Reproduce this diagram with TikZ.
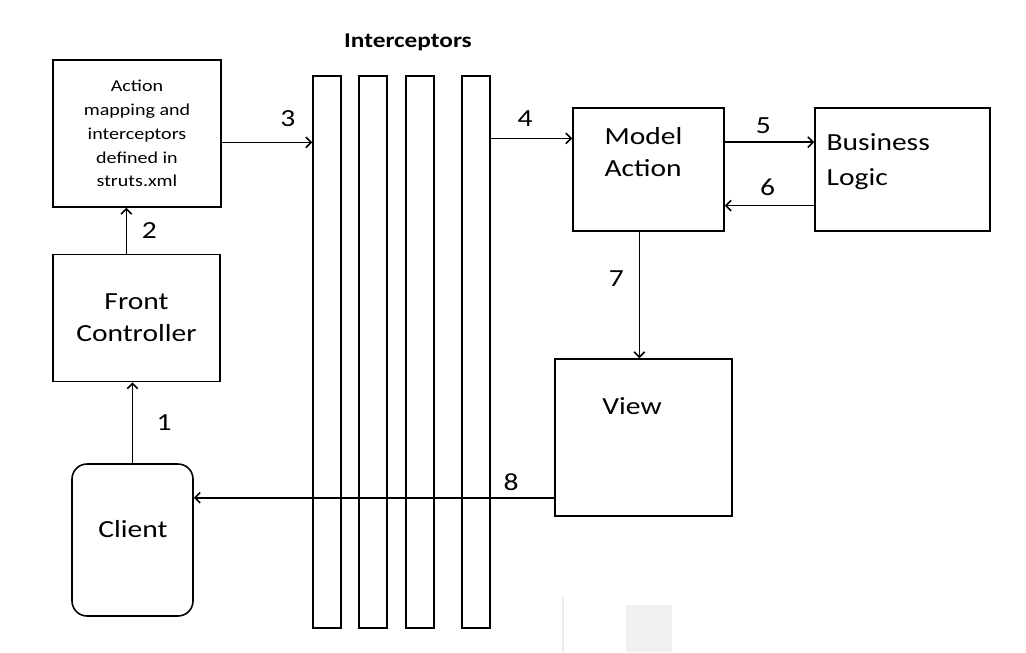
\documentclass[tikz,border=0pt]{standalone}
\usepackage{fontspec}
\setmainfont{Carlito}[FakeStretch=1.2]
\usetikzlibrary{arrows.meta,positioning,calc}

\begin{document}
\begin{tikzpicture}[x=0.02cm,y=-0.02cm,>={Straight Barb[length=3pt,width=6pt]},line width=0.9pt,
    font=\fontsize{14}{18}\selectfont,
    box/.style={draw,rectangle,inner sep=0pt},
    bar/.style={draw,rectangle,minimum width=0.56cm,minimum height=11.04cm},
    small/.style={font=\fontsize{9.5}{13.6}\selectfont}]
    \useasboundingbox (0,0) rectangle (1026,652);

    \node[box,minimum width=3.36cm,minimum height=2.94cm,align=center,small] (map) at (137,133.5)
        {Action\\mapping and\\interceptors\\defined in\\struts.xml};
    \node[box,minimum width=3.34cm,minimum height=2.54cm,align=center] (fc) at (136.5,318)
        {Front\\Controller};
    \node[box,rounded corners=0.3cm,minimum width=2.42cm,minimum height=3.04cm] (cl) at (132.5,540) {};
    \node (cltext) at (133,529) {Client};

    \foreach \x [count=\i] in {327,373,420,476}
        \node[bar] (bar\i) at (\x,352) {};
    \node[font=\bfseries\fontsize{12}{14}\selectfont] (ictitle) at (408,42) {Interceptors};

    \node[box,minimum width=3.02cm,minimum height=2.46cm] (ma) at (648.5,169.5) {};
    \node[anchor=west,align=left] (matext) at (598,152) {Model\\Action};
    \node[box,minimum width=3.5cm,minimum height=2.46cm] (bl) at (902.5,169.5) {};
    \node[anchor=west,align=left,font=\fontsize{14}{20}\selectfont] (bltext) at (820,162) {Business\\Logic};
    \node[box,minimum width=3.54cm,minimum height=3.14cm] (vw) at (643.5,437.5) {};
    \node (vwtext) at (632,406) {View};

    \coordinate (a2) at ($(fc.north west)!.44!(fc.north east)$);
    \coordinate (a3) at ($(map.north east)!.56!(map.south east)$);
    \coordinate (a4) at ($(ma.north west)!.25!(ma.south west)$);
    \coordinate (a5) at ($(ma.north east)!.28!(ma.south east)$);
    \coordinate (a6) at ($(bl.north west)!.79!(bl.south west)$);
    \coordinate (a7) at ($(ma.south west)!.44!(ma.south east)$);
    \coordinate (a8) at ($(vw.north west)!.88!(vw.south west)$);

    \path[->] (cl.north) edge node[right=10pt] {1} (cl.north |- fc.south)
              (a2) edge node[right=5pt] {2} (a2 |- map.south)
              (a3) edge node[above=5pt,pos=.73] {3} (a3 -| bar1.west)
              (a4 -| bar4.east) edge node[above=3pt,pos=.42] {4} (a4)
              (a5) edge node[above=1pt,pos=.43] {5} (a5 -| bl.west)
              (a6) edge node[above=2pt,pos=.52] {6} (a6 -| ma.east)
              (a7) edge node[left=5pt,pos=.37] {7} (a7 |- vw.north)
              (a8) edge node[above=0pt,pos=.12] {8} (a8 -| cl.east);

    % faint marks at the bottom of the screenshot
    \fill[black!6] (626,605) rectangle (672,652);
    \draw[black!8,line width=1pt] (563,597) -- (563,652);
\end{tikzpicture}
\end{document}
